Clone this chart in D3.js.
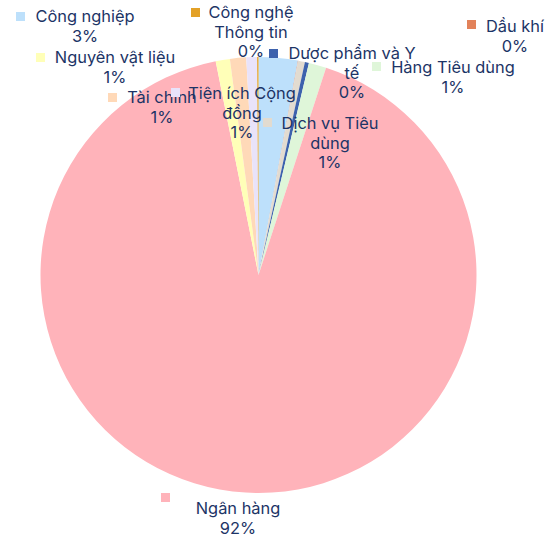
<!DOCTYPE html>
<html><head><meta charset="utf-8">
<script src="https://cdn.jsdelivr.net/npm/d3@7"></script>
<style>html,body{margin:0;padding:0;background:#fff}svg{display:block}</style>
</head><body>
<svg id="c" width="558" height="536"></svg>
<script>
const categories = ["Công nghiệp","Dầu khí","Dịch vụ Tiêu dùng","Dược phẩm và Y tế","Hàng Tiêu dùng","Ngân hàng","Nguyên vật liệu","Tài chính","Tiện ích Cộng đồng","Công nghệ Thông tin"];
const values = [2.9, 0.02, 0.5, 0.3, 1.3, 91.9, 1.05, 1.2, 0.8, 0.1];
const percentLabels = ["3%","0%","1%","0%","1%","92%","1%","1%","1%","0%"];
const colors = ["#bde0fb","#e2825a","#e2dbd0","#3d62ad","#dff6d9","#ffb3ba","#ffffb8","#ffd9b8","#e9e3fa","#e3a127"];
// label layout: wrapped name lines, text center x, first baseline y, marker x,y
const labelLines = [["Công nghiệp"],["Dầu khí"],["Dịch vụ Tiêu","dùng"],["Dược phẩm và Y","tế"],["Hàng Tiêu dùng"],["Ngân hàng"],["Nguyên vật liệu"],["Tài chính"],["Tiện ích Cộng","đồng"],["Công nghệ","Thông tin"]];
const labelPos = [[85,22,16,12],[515,32,467,20],[330,129,263,118],[352,59,269,49],[453,73,372,62],[238,514,161,493],[115,63,36,53],[162,103,108,93],[242,99,171,88],[251,18,191,8]];

const svg = d3.select("#c");
const cx = 258.5, cy = 275, r = 218;
const pie = d3.pie().sort(null).value(d => d)(values);
const arc = d3.arc().innerRadius(0).outerRadius(r);
const g = svg.append("g").attr("transform", `translate(${cx},${cy})`);
g.selectAll("path").data(pie).join("path")
  .attr("d", arc).attr("fill", (d,i) => colors[i]).attr("stroke","none");

const lg = svg.append("g").attr("font-family","Inter, sans-serif").attr("font-size",16.4).attr("fill","#1c3466");
categories.forEach((c,i) => {
  const [tx, ty, mx, my] = labelPos[i];
  lg.append("rect").attr("x",mx).attr("y",my).attr("width",9).attr("height",9).attr("fill",colors[i]);
  const lines = labelLines[i].concat([percentLabels[i]]);
  const t = lg.append("text").attr("text-anchor","middle");
  lines.forEach((l,j) => t.append("tspan").attr("x",tx).attr("y",ty + j*19.5).text(l));
});
</script>
</body></html>
